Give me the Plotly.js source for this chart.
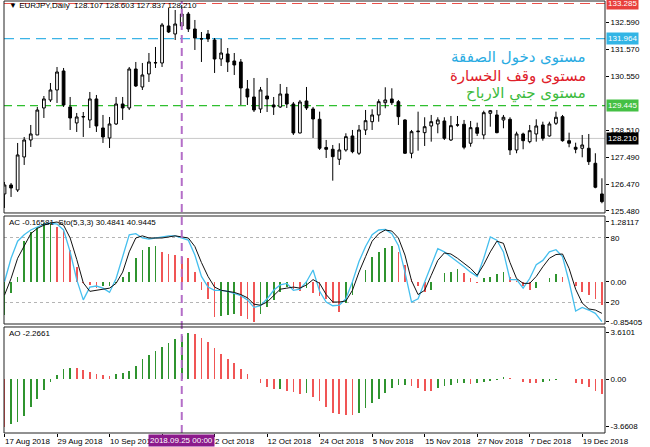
<!DOCTYPE html>
<html><head><meta charset="utf-8">
<script src="https://cdn.plot.ly/plotly-3.0.1.min.js"></script>
<style>html,body{margin:0;padding:0;background:#fff}#chart{width:650px;height:447px}</style>
</head><body><div id="chart"></div>
<script>
// Trading days (categories)
const dates = [
'2018-08-17','2018-08-20','2018-08-21','2018-08-22','2018-08-23','2018-08-24','2018-08-27','2018-08-28','2018-08-29','2018-08-30','2018-08-31',
'2018-09-03','2018-09-04','2018-09-05','2018-09-06','2018-09-07','2018-09-10','2018-09-11','2018-09-12','2018-09-13','2018-09-14',
'2018-09-17','2018-09-18','2018-09-19','2018-09-20','2018-09-21','2018-09-24','2018-09-25','2018-09-26','2018-09-27','2018-09-28',
'2018-10-01','2018-10-02','2018-10-03','2018-10-04','2018-10-05','2018-10-08','2018-10-09','2018-10-10','2018-10-11','2018-10-12',
'2018-10-15','2018-10-16','2018-10-17','2018-10-18','2018-10-19','2018-10-22','2018-10-23','2018-10-24','2018-10-25','2018-10-26',
'2018-10-29','2018-10-30','2018-10-31',
'2018-11-01','2018-11-02','2018-11-05','2018-11-06','2018-11-07','2018-11-08','2018-11-09','2018-11-12','2018-11-13','2018-11-14',
'2018-11-15','2018-11-16','2018-11-19','2018-11-20','2018-11-21','2018-11-22','2018-11-23','2018-11-26','2018-11-27','2018-11-28',
'2018-11-29','2018-11-30',
'2018-12-03','2018-12-04','2018-12-05','2018-12-06','2018-12-07','2018-12-10','2018-12-11','2018-12-12','2018-12-13','2018-12-14',
'2018-12-17','2018-12-18','2018-12-19','2018-12-20','2018-12-21','2018-12-24'];

const tickDates = ['2018-08-17','2018-08-29','2018-09-10','2018-09-20','2018-10-02','2018-10-12','2018-10-24','2018-11-05','2018-11-15','2018-11-27','2018-12-07','2018-12-19'];
const tickText = ['17 Aug 2018','29 Aug 2018','10 Sep 2018','20 Sep 2018','2 Oct 2018','12 Oct 2018','24 Oct 2018','5 Nov 2018','15 Nov 2018','27 Nov 2018','7 Dec 2018','19 Dec 2018'];

const openP = [126.120,126.458,126.270,127.512,128.151,128.339,129.355,129.656,130.032,130.747,
129.393,128.791,129.016,128.904,129.694,128.603,128.226,128.753,129.505,129.355,
130.822,130.145,130.634,131.050,131.048,132.440,132.139,132.440,132.891,132.327,
131.950,132.139,131.913,131.198,131.387,131.123,131.086,130.070,129.769,129.317,
129.806,129.468,129.393,129.882,129.505,128.414,129.618,129.317,128.930,127.870,
127.801,127.425,127.775,128.302,127.651,128.527,128.839,129.092,129.554,129.694,
129.592,128.904,127.651,128.460,128.426,128.678,128.753,128.866,128.151,128.710,
128.742,128.027,128.614,128.339,129.155,129.092,128.904,128.930,127.775,128.377,
128.087,128.377,128.715,128.302,128.779,129.028,128.124,127.877,127.839,127.839,
127.274,126.120];
const highP = [126.571,126.533,128.038,128.264,128.715,129.393,129.806,130.295,130.897,130.860,
129.769,129.167,129.204,129.957,129.844,129.092,129.016,129.769,129.769,130.897,
131.086,131.048,131.424,131.650,132.553,133.117,133.042,133.230,132.967,132.666,
132.214,132.289,131.988,131.951,131.612,131.424,131.198,130.408,130.484,130.145,
130.484,129.769,130.258,130.145,129.581,129.656,130.145,129.393,129.216,128.151,
127.963,128.027,128.403,128.527,128.715,129.280,129.306,129.682,130.134,130.096,
129.656,128.930,128.527,129.216,129.005,129.092,129.005,129.005,129.054,129.054,
128.904,128.866,128.802,129.253,129.280,129.280,129.092,129.005,128.463,128.426,
128.715,128.930,128.839,128.839,129.216,129.092,128.426,128.049,128.339,128.377,
127.651,126.710];
const lowP = [125.593,126.007,126.195,127.211,127.888,128.339,128.979,129.581,129.543,129.393,
128.527,128.452,128.264,128.603,128.452,128.038,127.850,128.715,128.904,129.278,
130.145,130.032,130.333,130.860,130.897,132.177,131.913,132.402,132.214,131.537,
131.086,131.838,130.672,130.935,130.709,130.597,129.468,129.468,129.204,129.167,
129.204,129.092,129.355,129.355,128.339,128.400,129.280,128.226,127.775,127.474,
126.620,127.211,127.711,127.651,127.587,128.339,128.527,128.839,129.344,129.468,
128.715,127.624,127.462,127.749,127.925,128.087,128.403,128.151,128.113,128.651,
127.801,127.899,128.302,128.178,128.651,128.403,128.591,127.587,127.651,127.801,
128.027,128.087,128.124,128.275,128.715,128.087,127.877,127.651,127.499,127.211,
126.334,125.769];
const closeP = [126.458,126.345,127.587,128.151,128.377,129.278,129.694,130.032,130.709,129.468,
128.979,129.016,129.030,129.694,128.678,128.264,128.753,129.505,129.355,130.822,
130.183,130.597,131.086,131.060,132.478,132.214,132.515,132.891,132.327,131.988,
131.960,131.951,131.198,131.424,131.086,130.973,130.108,129.769,129.280,130.032,
129.694,129.393,129.882,129.505,128.414,129.581,129.355,128.941,127.839,127.800,
127.523,127.775,128.275,127.711,128.527,128.877,129.092,129.592,129.656,129.554,
129.028,127.651,128.463,128.480,128.651,128.839,128.904,128.215,128.689,128.720,
127.877,128.614,128.403,129.178,129.253,128.426,129.005,127.775,128.377,128.124,
128.501,128.678,128.215,128.753,129.005,128.124,128.027,127.801,127.963,127.335,
126.372,125.830];

const acVals = [-0.71,-0.25,0.11,0.87,1.07,1.17,1.245,1.281,1.17,1.10,
0.68,0.32,-0.02,-0.08,-0.13,-0.10,-0.09,-0.02,0.11,0.21,
0.50,0.68,0.75,0.76,0.64,0.60,0.58,0.53,0.50,0.21,
-0.18,-0.36,-0.76,-0.74,-0.71,-0.70,-0.74,-0.80,-0.854,-0.70,
-0.55,-0.38,-0.22,-0.12,-0.15,-0.20,-0.14,-0.25,-0.30,-0.36,
-0.46,-0.64,-0.46,-0.28,0.00,0.25,0.53,0.63,0.71,0.77,
0.63,0.36,0.05,-0.10,-0.22,-0.17,0.00,0.18,0.21,0.27,
0.18,0.07,-0.02,0.07,0.11,0.16,0.20,0.11,0.02,-0.10,
-0.18,-0.14,-0.01,0.07,0.16,0.11,0.00,-0.10,-0.21,-0.28,
-0.36,-0.50];

const stochK = [39,61,77,83,87.5,90.6,93,94,93,87.5,
67,41,22,34,35,33,29,42,62.5,83,
84,80,79,80,81,82,82,80,78,64,
44,34,31,31,30,28,26,22,15,16.5,
23,31,36,37.5,31,32,39,50,30,20,
16.5,17,23,39,58,72,83,87.5,88,84,
73,48,20,23,39,55,70,67,62.5,58,
53,48,44,61,81,78,67,41,41,33,
42,55,59,67,69,62.5,39,11.5,15,12.5,
9.4,1.6];
const stochD = [26.5,42,61,73,84,89,92,94,95,92,
80,60,38,30,31,32,33,37.5,48,67,
80,82,80,80,80,81,82,81,80,72,
57,44,34,31,30,29,27,24,18,17,
20,26.5,32,33,34,33,36,41,37.5,27,
20,20,21,31,48,62.5,77,84,87.5,86.5,
80,64,40,27,31,45,59,66,65,61,
56,51.5,45,55,67,77,75,57,42,37.5,
37.5,44,53,61,64.5,65,51.5,32,19,13.5,
12.5,9.4];

const aoVals = [-3.66,-3.46,-3.28,-2.84,-2.17,-1.55,-0.83,-0.18,0.34,0.78,
0.85,0.84,0.72,0.54,0.41,0.34,0.26,0.41,0.47,0.67,
1.03,1.55,1.89,2.22,2.53,2.79,3.10,3.36,3.61,3.51,
3.18,2.92,2.40,1.96,1.55,1.29,0.78,0.41,0.02,-0.31,
-0.62,-0.78,-0.76,-0.88,-0.96,-1.14,-1.09,-1.40,-1.70,-2.17,
-2.58,-2.69,-2.74,-2.77,-2.58,-2.25,-1.86,-1.55,-1.03,-0.70,
-0.44,-0.43,-0.52,-0.70,-0.88,-0.90,-0.70,-0.52,-0.44,-0.31,
-0.30,-0.36,-0.26,-0.21,-0.13,-0.02,0.15,0.12,0.01,-0.18,
-0.26,-0.27,-0.20,-0.13,-0.02,0.03,0.01,-0.26,-0.36,-0.57,
-0.88,-1.14];

const levelStop = 133.285, levelEntry = 131.964, levelTP = 129.445, levelBid = 128.210;
const mainTicks = [132.590,131.570,130.550,128.510,127.490,126.470,125.480];
const crossDate = '2018-09-25';

const GREEN = '#2f942f', RED = '#f05555';
function upDown(vals, first){ return vals.map((v,i)=> i===0 ? first : (v > vals[i-1] ? GREEN : RED)); }

const FONT = 'Liberation Sans, Arial, sans-serif';

const traces = [
  {type:'candlestick', x:dates, open:openP, high:highP, low:lowP, close:closeP, xaxis:'x', yaxis:'y',
   increasing:{line:{color:'#000',width:1}, fillcolor:'#ffffff'},
   decreasing:{line:{color:'#000',width:1}, fillcolor:'#000000'},
   whiskerwidth:0, hoverinfo:'skip', showlegend:false},
  {type:'bar', x:dates, y:acVals, xaxis:'x', yaxis:'y2', width:0.26,
   marker:{color:upDown(acVals, GREEN), line:{width:0}}, hoverinfo:'skip', showlegend:false},
  {type:'scatter', mode:'lines', x:dates, y:stochK, xaxis:'x', yaxis:'y3',
   line:{color:'#45bfee', width:1.3}, hoverinfo:'skip', showlegend:false},
  {type:'scatter', mode:'lines', x:dates, y:stochD, xaxis:'x', yaxis:'y3',
   line:{color:'#111', width:1}, hoverinfo:'skip', showlegend:false},
  {type:'bar', x:dates, y:aoVals, xaxis:'x', yaxis:'y4', width:0.26,
   marker:{color:upDown(aoVals, RED), line:{width:0}}, hoverinfo:'skip', showlegend:false}
];

const axFont = {family:FONT, size:8, color:'#000'};
const dMain = [0.5093, 1], dAC = [0.2523, 0.5023], dAO = [0, 0.2454];

const layout = {
  width:650, height:447,
  margin:{l:4, r:45, t:1, b:14},
  paper_bgcolor:'#fff', plot_bgcolor:'#fff',
  showlegend:false, boxgap:0.4, bargap:0,
  font:{family:FONT, size:8, color:'#000'},
  xaxis:{type:'category', anchor:'y4', range:[-0.076, 91.47], rangeslider:{visible:false},
    tickvals:tickDates, ticktext:tickText, ticks:'outside', ticklen:3, tickcolor:'#000', tickangle:0,
    ticklabelposition:'outside right', tickfont:axFont, showgrid:false, showline:false, zeroline:false, fixedrange:true},
  yaxis:{domain:dMain, anchor:'x', side:'right', range:[125.404, 133.380],
    tickvals:mainTicks, ticktext:mainTicks.map(v=>v.toFixed(3)), ticks:'outside', ticklen:3, tickcolor:'#000',
    tickfont:axFont, showgrid:false, zeroline:false, showline:false},
  yaxis2:{domain:dAC, anchor:'x', side:'right', range:[-0.903, 1.403],
    tickvals:[1.28117, 0, -0.85405], ticktext:['1.28117','0.00','-0.85405'], ticks:'outside', ticklen:3, tickcolor:'#000',
    tickfont:axFont, showgrid:false, zeroline:false, showline:false},
  yaxis3:{overlaying:'y2', anchor:'x', side:'right', range:[-0.6, 100.6],
    tickvals:[80, 20], ticktext:['80','20'], ticks:'outside', ticklen:3, tickcolor:'#000',
    tickfont:axFont, showgrid:true, gridcolor:'#b4b4b4', griddash:'dot', gridwidth:1, zeroline:false, showline:false},
  yaxis4:{domain:dAO, anchor:'x', side:'right', range:[-4.16, 4.05],
    tickvals:[3.6101, 0, -3.6608], ticktext:['3.6101','0.00','-3.6608'], ticks:'outside', ticklen:3, tickcolor:'#000',
    tickfont:axFont, showgrid:false, zeroline:false, showline:false},
  shapes:[
    {type:'line', xref:'paper', x0:0, x1:1, yref:'y', y0:levelBid, y1:levelBid, line:{color:'#c8c8c8', width:1}, layer:'below'},
    {type:'line', xref:'paper', x0:0, x1:1, yref:'y', y0:levelStop, y1:levelStop, line:{color:'#e8504a', width:1.2, dash:'10px,6px'}, layer:'below'},
    {type:'line', xref:'paper', x0:0, x1:1, yref:'y', y0:levelEntry, y1:levelEntry, line:{color:'#3cb4e6', width:1.2, dash:'10px,6px'}, layer:'below'},
    {type:'line', xref:'paper', x0:0, x1:1, yref:'y', y0:levelTP, y1:levelTP, line:{color:'#2fbf2f', width:1.2, dash:'8px,5px'}, layer:'below'},
    {type:'line', xref:'x', x0:crossDate, x1:crossDate, yref:'paper', y0:0, y1:1, line:{color:'#b46ec8', width:2, dash:'8px,5px'}, layer:'above'},
    {type:'rect', xref:'paper', x0:0, x1:1, yref:'paper', y0:dMain[0], y1:dMain[1], line:{color:'#222', width:1}, fillcolor:'rgba(0,0,0,0)', layer:'above'},
    {type:'rect', xref:'paper', x0:0, x1:1, yref:'paper', y0:dAC[0], y1:dAC[1], line:{color:'#222', width:1}, fillcolor:'rgba(0,0,0,0)', layer:'above'},
    {type:'rect', xref:'paper', x0:0, x1:1, yref:'paper', y0:dAO[0], y1:dAO[1], line:{color:'#222', width:1}, fillcolor:'rgba(0,0,0,0)', layer:'above'}
  ],
  annotations:[
    {xref:'paper', yref:'paper', x:0.005, y:0.9907, xanchor:'left', yanchor:'middle', showarrow:false,
     text:'▼ EURJPY,Daily  128.107 128.603 127.837 128.210', font:{family:FONT, size:8, color:'#000'}},
    {xref:'paper', yref:'paper', x:0.005, y:0.4877, xanchor:'left', yanchor:'middle', showarrow:false,
     text:'AC -0.16581  Sto(5,3,3) 30.4841 40.9445', font:{family:FONT, size:8, color:'#000'}},
    {xref:'paper', yref:'paper', x:0.005, y:0.2292, xanchor:'left', yanchor:'middle', showarrow:false,
     text:'AO -2.2661', font:{family:FONT, size:8, color:'#000'}},
    {xref:'paper', yref:'paper', x:0.972, y:0.870, xanchor:'right', yanchor:'middle', showarrow:false,
     text:'مستوى دخول الصفقة', font:{family:'DejaVu Sans, sans-serif', size:15, color:'#29abe2'}},
    {xref:'paper', yref:'paper', x:0.972, y:0.826, xanchor:'right', yanchor:'middle', showarrow:false,
     text:'مستوى وقف الخسارة', font:{family:'DejaVu Sans, sans-serif', size:15, color:'#e0202a'}},
    {xref:'paper', yref:'paper', x:0.972, y:0.787, xanchor:'right', yanchor:'middle', showarrow:false,
     text:'مستوى جني الارباح', font:{family:'DejaVu Sans, sans-serif', size:15, color:'#3dbb3d'}},
    {xref:'paper', yref:'y', x:1, y:levelStop, xanchor:'left', yanchor:'middle', xshift:1, showarrow:false,
     text:levelStop.toFixed(3), bgcolor:'#e8403c', borderpad:1, font:{family:FONT, size:8, color:'#fff'}},
    {xref:'paper', yref:'y', x:1, y:levelEntry, xanchor:'left', yanchor:'middle', xshift:1, showarrow:false,
     text:levelEntry.toFixed(3), bgcolor:'#33b5e5', borderpad:1, font:{family:FONT, size:8, color:'#fff'}},
    {xref:'paper', yref:'y', x:1, y:levelTP, xanchor:'left', yanchor:'middle', xshift:1, showarrow:false,
     text:levelTP.toFixed(3), bgcolor:'#44c044', borderpad:1, font:{family:FONT, size:8, color:'#fff'}},
    {xref:'paper', yref:'y', x:1, y:levelBid, xanchor:'left', yanchor:'middle', xshift:1, showarrow:false,
     text:levelBid.toFixed(3), bgcolor:'#000', borderpad:1, font:{family:FONT, size:8, color:'#fff'}},
    {xref:'x', yref:'paper', x:crossDate, y:0, xanchor:'center', yanchor:'top', yshift:-1, showarrow:false,
     text:'2018.09.25 00:00', bgcolor:'#8b1a8b', borderpad:1, font:{family:FONT, size:8, color:'#fff'}}
  ]
};

Plotly.newPlot('chart', traces, layout, {staticPlot:true, displayModeBar:false});
</script>
</body></html>
